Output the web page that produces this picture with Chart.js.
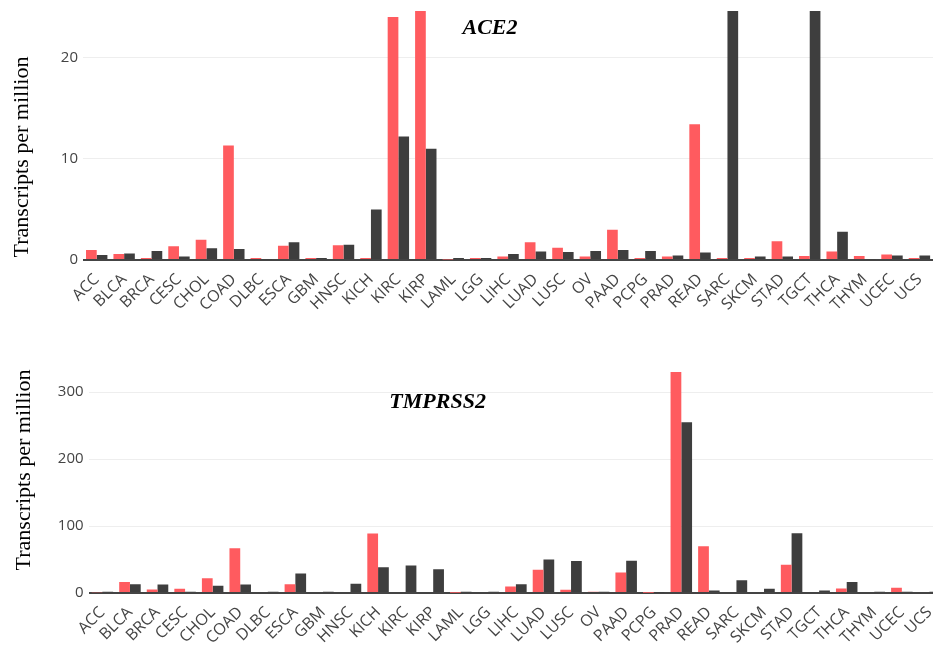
<!DOCTYPE html>
<html>
<head>
<meta charset="utf-8">
<script src="https://cdn.jsdelivr.net/npm/chart.js@4/dist/chart.umd.min.js"></script>
<style>
  html, body { margin: 0; padding: 0; background: #fff; overflow: hidden; width: 933px; height: 652px; }
  .wrap { position: absolute; left: 0; }
</style>
</head>
<body>
<div class="wrap" style="top:-3px;width:935px;height:328px;"><canvas id="c1"></canvas></div>
<div class="wrap" style="top:346px;width:945px;height:312px;"><canvas id="c2"></canvas></div>
<script>
const categories = ["ACC","BLCA","BRCA","CESC","CHOL","COAD","DLBC","ESCA","GBM","HNSC","KICH","KIRC","KIRP","LAML","LGG","LIHC","LUAD","LUSC","OV","PAAD","PCPG","PRAD","READ","SARC","SKCM","STAD","TGCT","THCA","THYM","UCEC","UCS"];

const ace2Tumor  = [1.0,0.6,0.2,1.35,2.0,11.3,0.2,1.4,0.2,1.45,0.2,24.0,26.0,0.05,0.2,0.35,1.75,1.2,0.35,3.0,0.2,0.35,13.4,0.2,0.2,1.85,0.4,0.85,0.4,0.55,0.2];
const ace2Normal = [0.5,0.65,0.9,0.35,1.15,1.08,0.05,1.75,0.2,1.5,5.0,12.2,11.0,0.2,0.2,0.6,0.85,0.8,0.9,1.0,0.9,0.45,0.75,30.0,0.35,0.35,30.0,2.8,0.05,0.45,0.45];

const tmprss2Tumor  = [1,16.6,5.4,6.3,22,67,1.5,13,1.5,1.5,89,1.5,1.5,0.5,1.5,9.8,34.6,5,2,30.7,0.3,360,69.8,1.5,1.5,42,1.5,6.8,1.5,7.8,1.5];
const tmprss2Normal = [2,13,12.7,2,10.7,12.7,2,29,2,13.7,38.5,41,35.6,2,2,13,50,47.8,2,48.3,0.3,255,3.9,19,6.3,89.3,3.9,16.6,2,2,2];

const ace2Ticks = [0,10,20];
const tmprss2Ticks = [0,100,200,300];
const ace2Max = 24.6;
const tmprss2Max = 330;

const ace2Title = "ACE2";
const tmprss2Title = "TMPRSS2";
const yTitle = "Transcripts per million";

const RED = "#ff5b5f";
const DARK = "#3e3e3e";

function textPlugin(text, xVal, yVal, titleX, titleY) {
  return {
    id: 'annot',
    afterDatasetsDraw(chart) {
      const ctx = chart.ctx;
      const x = chart.scales.x.getPixelForValue(xVal);
      const y = chart.scales.y.getPixelForValue(yVal);
      ctx.save();
      ctx.font = 'italic bold 22px "Liberation Serif", "Times New Roman", serif';
      ctx.fillStyle = '#000';
      ctx.textAlign = 'center';
      ctx.textBaseline = 'middle';
      ctx.fillText(text, x, y);
      // y-axis title
      ctx.translate(titleX, titleY);
      ctx.rotate(-Math.PI / 2);
      ctx.font = '22px "Liberation Serif", "Times New Roman", serif';
      ctx.fillText(yTitle, 0, 0);
      ctx.restore();
    }
  };
}

function makeChart(id, tumor, normal, ticks, max, yWidth, padTop, title, annX, annY, tX, tY) {
  return new Chart(document.getElementById(id), {
    type: 'bar',
    data: {
      labels: categories,
      datasets: [
        { label: 'Tumor', data: tumor, backgroundColor: RED, borderWidth: 0, barPercentage: 1.0, categoryPercentage: 0.78 },
        { label: 'Normal', data: normal, backgroundColor: DARK, borderWidth: 0, barPercentage: 1.0, categoryPercentage: 0.78 }
      ]
    },
    options: {
      responsive: true,
      maintainAspectRatio: false,
      animation: false,
      layout: { padding: { left: 35, top: padTop, right: 0, bottom: 0 } },
      plugins: { legend: { display: false }, tooltip: { enabled: false } },
      scales: {
        x: {
          grid: { display: false },
          border: { display: false },
          ticks: {
            color: '#444',
            font: { family: '"Open Sans", sans-serif', size: 16 },
            maxRotation: 45, minRotation: 45, autoSkip: false, padding: 2
          },
          afterFit(scale) { scale.height = 65; }
        },
        y: {
          min: 0, max: max,
          border: { display: false },
          grid: {
            drawTicks: false,
            color: ctx => ctx.tick && ctx.tick.value === 0 ? '#444' : '#eeeeee',
            lineWidth: ctx => ctx.tick && ctx.tick.value === 0 ? 2 : 1
          },
          afterBuildTicks(scale) { scale.ticks = ticks.map(v => ({ value: v })); },
          ticks: {
            color: '#444',
            font: { family: '"Open Sans", sans-serif', size: 15 },
            padding: 5
          },
          afterFit(scale) { scale.width = yWidth; }
        }
      }
    },
    plugins: [textPlugin(title, annX, annY, tX, tY)]
  });
}

makeChart('c1', ace2Tumor, ace2Normal, ace2Ticks, ace2Max, 48, 0, ace2Title, 14.34, 22.9, 22, 160);
makeChart('c2', tmprss2Tumor, tmprss2Normal, tmprss2Ticks, tmprss2Max, 53.6, 26, tmprss2Title, 12.16, 285, 24, 124);
</script>
</body>
</html>
